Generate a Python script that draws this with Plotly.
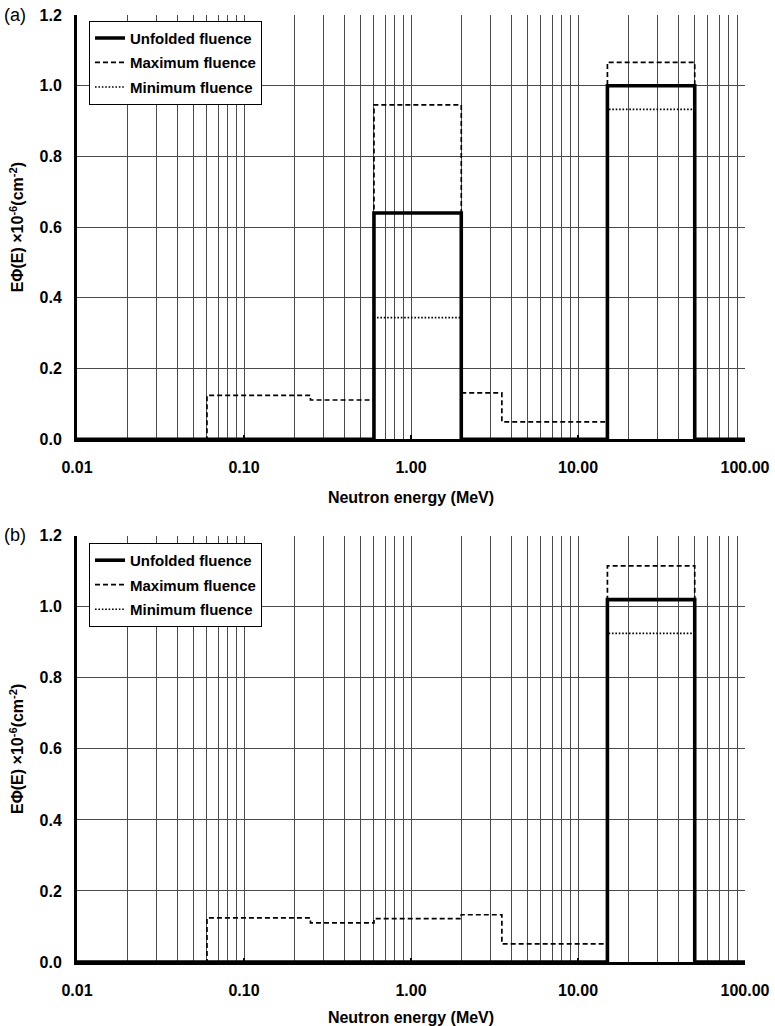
import plotly.graph_objects as go

# ---------------- data ----------------
# energy bin edges (MeV)
bin_edges = [0.01, 0.06, 0.25, 0.6, 2.0, 3.5, 15.0, 50.0, 100.0]

# panel (a): E*Phi(E) x 1e-6 per bin (8 bins)
a_unfolded = [0, 0, 0, 0.64, 0, 0, 1.00, 0]
a_maximum = [0, 0.124, 0.111, 0.946, 0.131, 0.049, 1.066, 0]
a_minimum = [0, 0, 0, 0.344, 0, 0, 0.933, 0]

# panel (b)
b_unfolded = [0, 0, 0, 0, 0, 0, 1.02, 0]
b_maximum = [0, 0.124, 0.110, 0.122, 0.133, 0.051, 1.115, 0]
b_minimum = [0, 0, 0, 0, 0, 0, 0.925, 0]

x_tickvals = [0.01, 0.1, 1, 10, 100]
x_ticktext = ["0.01", "0.10", "1.00", "10.00", "100.00"]
y_tickvals = [0.0, 0.2, 0.4, 0.6, 0.8, 1.0, 1.2]

series_names = ["Unfolded fluence", "Maximum fluence", "Minimum fluence"]

# ---------------- figure ----------------
FONT = "Liberation Sans, Arial, sans-serif"
GRID = "#4a4a4a"

fig = go.Figure()


def step_y(vals):
    return list(vals) + [vals[-1]]


def add_panel(unf, mx, mn, xaxis, yaxis, legend, grp):
    styles = {
        "Maximum fluence": (mx, dict(color="black", width=1.7, dash="5px,3px"), 2),
        "Minimum fluence": (mn, dict(color="black", width=1.6, dash="1.6px,1.8px"), 3),
        "Unfolded fluence": (unf, dict(color="black", width=3.6), 1),
    }
    for name in ["Maximum fluence", "Minimum fluence", "Unfolded fluence"]:
        vals, line, rank = styles[name]
        fig.add_trace(go.Scatter(
            x=bin_edges, y=step_y(vals), mode="lines", line=line,
            line_shape="hv", name=name, xaxis=xaxis, yaxis=yaxis,
            legend=legend, legendrank=rank, legendgroup=grp + str(rank),
            hoverinfo="skip",
        ))


add_panel(a_unfolded, a_maximum, a_minimum, "x", "y", "legend", "a")
add_panel(b_unfolded, b_maximum, b_minimum, "x2", "y2", "legend2", "b")

minor_vals = [m * 10 ** d for d in range(-2, 2) for m in range(2, 10)]

xaxis_common = dict(
    type="log", range=[-2, 2], automargin=False,
    tickvals=x_tickvals, ticktext=x_ticktext,
    tickfont=dict(family=FONT, size=16, color="black", weight="bold"),
    showgrid=True, gridcolor=GRID, gridwidth=1,
    minor=dict(tickvals=minor_vals, showgrid=True, gridcolor=GRID,
               gridwidth=1, ticks=""),
    showline=True, linecolor="black", linewidth=3,
    ticks="inside", ticklen=4, tickwidth=1.5, tickcolor="black",
    ticklabelstandoff=12, ticklabeloverflow="allow",
    zeroline=False,
    title=dict(text="Neutron energy (MeV)",
               font=dict(family=FONT, size=16, color="black", weight="bold"),
               standoff=17),
)
yaxis_common = dict(
    range=[0, 1.2], tickvals=y_tickvals, tickformat=".1f", automargin=False,
    tickfont=dict(family=FONT, size=16, color="black", weight="bold"),
    showgrid=True, gridcolor=GRID, gridwidth=1,
    showline=True, linecolor="black", linewidth=3,
    ticks="outside", ticklen=0, ticklabelstandoff=9,
    ticklabeloverflow="allow",
    zeroline=False,
    title=dict(text="EΦ(E) ×10<sup>-6</sup>(cm<sup>-2</sup>)",
               font=dict(family=FONT, size=16, color="black", weight="bold"),
               standoff=12),
)

legend_common = dict(
    bgcolor="white", bordercolor="black", borderwidth=1,
    font=dict(family=FONT, size=15, color="black", weight="bold"),
    xanchor="left", yanchor="top", tracegroupgap=2,
    itemwidth=30,
)

fig.update_layout(
    width=775, height=1026,
    margin=dict(l=77, r=30, t=15, b=64, autoexpand=False),
    paper_bgcolor="white", plot_bgcolor="white",
    xaxis=dict(domain=[0, 1], anchor="y", **xaxis_common),
    yaxis=dict(domain=[0.552, 1], anchor="x", **yaxis_common),
    xaxis2=dict(domain=[0, 1], anchor="y2", **xaxis_common),
    yaxis2=dict(domain=[0, 0.4502], anchor="x2", **yaxis_common),
    legend=dict(x=0.018, y=0.994, **legend_common),
    legend2=dict(x=0.018, y=0.4425, **legend_common),
    showlegend=True,
    annotations=[
        dict(text="(a)", xref="paper", yref="paper", x=-0.113, y=1.0,
             xanchor="left", yanchor="middle", showarrow=False,
             font=dict(family=FONT, size=18, color="black")),
        dict(text="(b)", xref="paper", yref="paper", x=-0.113, y=0.451,
             xanchor="left", yanchor="middle", showarrow=False,
             font=dict(family=FONT, size=18, color="black")),
    ],
)

# remove the browser's default 8px body margin so the figure fills the window
fig.write_html("out.html",
               config={"displayModeBar": False},
               post_script="document.body.style.margin='0px';")
